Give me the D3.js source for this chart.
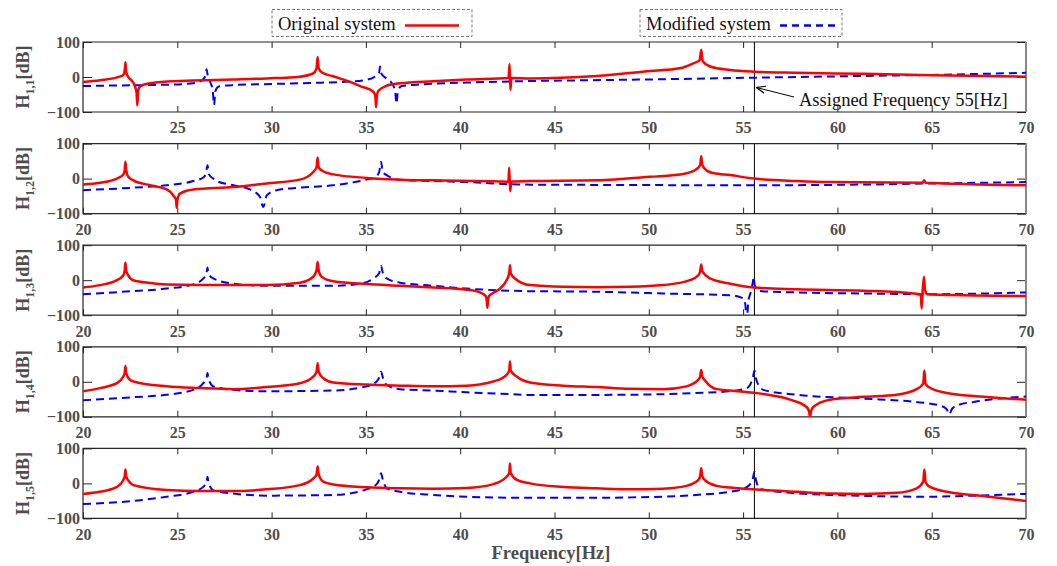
<!DOCTYPE html>
<html><head><meta charset="utf-8">
<script src="https://cdn.jsdelivr.net/npm/d3@7/dist/d3.min.js"></script>
<style>
body{margin:0;background:#fff;}
svg{display:block;}
.tk text{font-family:"Liberation Serif","Times New Roman",serif;font-weight:bold;font-size:16px;fill:#4d4d4d;}
.tk line{stroke:#262626;stroke-width:1;}
</style></head>
<body>
<svg id="chart" width="1057" height="566"></svg>
<script>
// ---------------- data ----------------
const freqTicks = [20, 25, 30, 35, 40, 45, 50, 55, 60, 65, 70];
const freqTicksFirst = [25, 30, 35, 40, 45, 50, 55, 60, 65, 70];
const dbTicks = [-100, 0, 100];
const panelSubs = ["1,1", "1,2", "1,3", "1,4", "1,5"];
const markerFreq = 55.6;
const seriesNames = ["Original system", "Modified system"];
const annotationText = "Assigned Frequency 55[Hz]";
const xLabel = "Frequency[Hz]";

const orig11 = [[20,-14],[20.9,-9],[21.8,-1],[22.14,6],[22.21,18],[22.25,42],[22.29,15],[22.4,0],[22.57,-9],[22.75,-26],[22.84,-45],[22.88,-81],[22.92,-45],[22.98,-30],[23.2,-22],[24.44,-13],[25.85,-10],[27.97,-7],[29.74,-4],[31.5,1],[32.2,10],[32.38,24],[32.44,57],[32.5,24],[32.7,12],[33.27,2],[34.16,-14],[34.69,-26],[35.4,-42],[35.5,-55],[35.54,-86],[35.58,-55],[35.65,-40],[36.1,-25],[36.81,-18],[38.57,-12],[40.34,-7],[42.56,-3],[42.62,37],[42.66,-37],[42.72,-3],[43.7,-4],[47.24,3],[50.06,17],[51.65,25],[52.36,39],[52.7,48],[52.78,78],[52.86,45],[53.25,30],[54.31,20],[55.6,15],[57.84,12],[61.38,9],[65,5],[70,1]];
const mod11 = [[20,-26],[22,-24],[24.44,-22],[25.85,-18],[26.3,-10],[26.5,5],[26.55,22],[26.62,2],[26.75,-15],[26.88,-40],[26.95,-80],[27.02,-40],[27.2,-27],[28,-23],[30,-20],[32,-17],[34.16,-13],[35.04,-8],[35.5,2],[35.7,12],[35.75,30],[35.82,10],[36.1,-5],[36.4,-20],[36.55,-40],[36.62,-76],[36.7,-40],[36.9,-26],[38,-21],[40.34,-16],[43.31,-12],[47,-9],[50,-7],[55.6,-2],[61.4,3],[65,6],[70,12]];

const orig12 = [[20,-17],[20.9,-12],[21.8,0],[22.14,12],[22.21,24],[22.25,48],[22.29,24],[22.4,5],[22.67,-5],[23.55,-19],[24.44,-31],[24.79,-48],[24.93,-60],[24.97,-83],[25.01,-60],[25.14,-43],[25.85,-31],[27.97,-24],[29.74,-14],[31.5,-3],[32.21,19],[32.38,32],[32.44,60],[32.5,32],[32.65,24],[33.27,12],[35.04,2],[36.81,-3],[38.57,-5],[42.11,-8],[42.55,-9],[42.6,31],[42.65,-36],[42.71,-8],[43.7,-7],[47.24,-5],[50.06,5],[51.9,14],[52.5,26],[52.72,38],[52.78,64],[52.84,38],[53.1,22],[53.42,16],[54.31,10],[55.6,0],[57.84,-7],[59.61,-10],[64.52,-12],[64.6,-5],[64.68,-12],[70,-19]];
const mod12 = [[20,-33],[22.67,-26],[24.44,-19],[25.85,-7],[26.38,3],[26.52,15],[26.6,38],[26.68,12],[26.91,0],[27.09,-7],[27.97,-19],[28.85,-31],[29.38,-52],[29.56,-81],[29.74,-48],[30.27,-33],[31.5,-26],[33.27,-19],[34.16,-12],[35.04,-3],[35.5,5],[35.7,18],[35.8,48],[35.9,18],[36.1,10],[36.81,-3],[38.57,-7],[40.34,-10],[43.31,-17],[47.24,-18],[55.6,-19],[61.38,-17],[64.91,-14],[70,-10]];

const orig13 = [[20,-21],[20.9,-14],[21.8,0],[22.14,14],[22.21,28],[22.25,50],[22.29,28],[22.4,14],[22.67,0],[23.55,-8],[24.44,-12],[27.97,-14],[29.74,-14],[31.5,-7],[32.21,10],[32.38,28],[32.44,52],[32.5,28],[32.65,10],[33.27,-3],[35.04,-11],[36.81,-16],[38.57,-21],[40.34,-27],[41.05,-35],[41.35,-45],[41.41,-60],[41.44,-79],[41.47,-60],[41.53,-45],[41.76,-36],[42.11,-24],[42.46,0],[42.6,20],[42.64,43],[42.68,20],[42.9,5],[43.7,-14],[45.47,-19],[47.24,-20],[49,-19],[50.77,-14],[52.18,0],[52.63,14],[52.72,25],[52.78,45],[52.84,25],[53.25,5],[54.31,-10],[55.6,-21],[57.84,-26],[61.38,-30],[64.03,-38],[64.42,-42],[64.47,-81],[64.52,-30],[64.59,10],[64.64,-25],[64.75,-40],[66.68,-43],[70,-45]];
const mod13 = [[20,-40],[22.67,-31],[24.44,-24],[25.85,-12],[26.38,5],[26.55,20],[26.6,36],[26.65,20],[26.91,5],[27.97,-10],[29.74,-16],[33.27,-16],[34.69,-10],[35.39,5],[35.7,20],[35.8,41],[35.9,20],[36.1,5],[36.81,-7],[38.57,-16],[40.34,-24],[43.31,-31],[47.24,-33],[50.77,-38],[54.31,-43],[55.01,-52],[55.12,-70],[55.19,-115],[55.28,-60],[55.4,-35],[55.5,-10],[55.56,8],[55.62,-15],[55.9,-31],[57.84,-35],[61.38,-38],[64.91,-40],[70,-35]];

const orig14 = [[20,-27],[20.9,-18],[21.8,-4],[22.14,15],[22.21,25],[22.25,45],[22.29,25],[22.5,5],[22.67,1],[24.44,-13],[26.2,-18],[27.97,-21],[29.74,-15],[31.5,-4],[32.21,15],[32.38,28],[32.44,53],[32.5,28],[32.74,10],[33.27,-2],[35.04,-8],[36.81,-11],[38.57,-13],[40.34,-11],[41.76,1],[42.46,20],[42.6,32],[42.64,58],[42.68,32],[43,15],[43.7,-2],[45.47,-11],[47.24,-15],[49,-20],[50.77,-21],[52,-13],[52.63,6],[52.72,15],[52.78,34],[52.84,15],[52.98,4],[53.6,-21],[54.31,-25],[56.07,-35],[57.49,-51],[58.37,-72],[58.5,-85],[58.55,-100],[58.6,-85],[58.72,-72],[59.61,-51],[61.38,-43],[63.14,-37],[64.2,-21],[64.55,-5],[64.61,32],[64.67,-5],[64.82,-14],[65.79,-32],[67.56,-42],[70,-51]];
const mod14 = [[20,-53],[22.67,-44],[24.44,-37],[25.85,-23],[26.38,-4],[26.55,10],[26.6,25],[26.65,10],[26.91,-13],[27.97,-23],[29.74,-27],[33.27,-25],[35.04,-13],[35.57,1],[35.7,12],[35.8,29],[35.9,12],[36.1,-9],[36.81,-21],[38.57,-25],[40.34,-30],[43.31,-37],[43.7,-38],[49,-37],[52.5,-32],[54.31,-27],[55.19,-18],[55.45,1],[55.52,12],[55.6,32],[55.68,10],[55.9,-15],[56.07,-23],[57.84,-37],[61.38,-48],[64.03,-57],[65.44,-68],[65.79,-78],[65.93,-93],[66.07,-78],[66.32,-68],[67.56,-55],[70,-42]];

const orig15 = [[20,-30],[20.9,-24],[21.8,-10],[22.14,10],[22.21,20],[22.25,40],[22.29,20],[22.5,2],[22.67,-5],[24.44,-19],[26.2,-22],[27.97,-22],[29.74,-17],[31.5,-5],[32.21,14],[32.38,25],[32.44,48],[32.5,25],[32.74,5],[33.27,-3],[35.04,-11],[36.81,-14],[38.57,-15],[40.34,-13],[41.76,-2],[42.46,19],[42.6,30],[42.64,57],[42.68,30],[43,10],[43.7,0],[45.47,-10],[47.24,-14],[49,-17],[50.77,-15],[52,-7],[52.63,10],[52.72,20],[52.78,43],[52.84,20],[52.98,9],[53.6,-7],[54.31,-12],[56.07,-19],[57.84,-24],[59.61,-29],[61.38,-30],[63.14,-27],[64.2,-14],[64.55,5],[64.61,40],[64.67,5],[64.82,-7],[65.79,-24],[67.56,-35],[70,-50]];
const mod15 = [[20,-59],[22.67,-50],[24.44,-38],[25.85,-24],[26.38,-10],[26.55,5],[26.6,19],[26.65,5],[26.91,-20],[27.97,-29],[29.74,-35],[33.27,-33],[35.04,-17],[35.57,-2],[35.7,10],[35.8,29],[35.9,10],[36.1,-14],[36.81,-24],[38.57,-33],[40.34,-38],[43.31,-41],[47.24,-41],[49,-40],[52.5,-33],[54.31,-24],[55.19,-11],[55.45,5],[55.52,15],[55.6,33],[55.68,10],[55.9,-15],[56.43,-21],[59.61,-33],[64.91,-38],[66.68,-36],[70,-30]];

const origSeries = [orig11, orig12, orig13, orig14, orig15];
const modSeries = [mod11, mod12, mod13, mod14, mod15];

// ---------------- layout ----------------
const svg = d3.select("#chart");
const L = 83, R = 1026, top0 = 42, step = 101.6, ph = 70;
const x = d3.scaleLinear().domain([20, 70]).range([L, R]);
const serif = '"Liberation Serif","Times New Roman",serif';
const redC = "#ff0000", blueC = "#0000ff";

panelSubs.forEach((sub, i) => {
  const top = top0 + i * step;
  const y = d3.scaleLinear().domain([-100, 100]).range([top + ph, top]);
  const g = svg.append("g");

  const cid = "clip" + i;
  svg.append("clipPath").attr("id", cid).append("rect")
    .attr("x", L).attr("y", top).attr("width", R - L).attr("height", ph);

  // axes
  const bx = g.append("g").attr("class", "tk").attr("transform", `translate(0,${top + ph})`)
    .call(d3.axisBottom(x).tickValues(i === 0 ? freqTicksFirst : freqTicks).tickSize(-6).tickPadding(10).tickFormat(d3.format("d")));
  bx.select(".domain").remove();
  const tx = g.append("g").attr("class", "tk").attr("transform", `translate(0,${top})`)
    .call(d3.axisTop(x).tickValues(freqTicks).tickSize(-6).tickFormat(""));
  tx.select(".domain").remove();
  const ly = g.append("g").attr("class", "tk").attr("transform", `translate(${L},0)`)
    .call(d3.axisLeft(y).tickValues(dbTicks).tickSize(-9).tickPadding(3));
  ly.select(".domain").remove();
  const ry = g.append("g").attr("class", "tk").attr("transform", `translate(${R},0)`)
    .call(d3.axisRight(y).tickValues(dbTicks).tickSize(-9).tickFormat(""));
  ry.select(".domain").remove();
  ry.selectAll("line").attr("stroke", "#777");

  // frame
  g.append("path").attr("d", `M${R},${top}H${L}V${top + ph}H${R}`)
    .attr("fill", "none").attr("stroke", "#262626").attr("stroke-width", 1.2);
  g.append("line").attr("x1", R).attr("x2", R).attr("y1", top).attr("y2", top + ph)
    .attr("stroke", "#888").attr("stroke-width", 2);

  // marker line
  g.append("line").attr("x1", x(markerFreq)).attr("x2", x(markerFreq))
    .attr("y1", top).attr("y2", top + ph).attr("stroke", "#000").attr("stroke-width", 1);

  const line = d3.line().x(d => x(d[0])).y(d => y(d[1])).curve(d3.curveMonotoneX);
  const cg = g.append("g").attr("clip-path", `url(#${cid})`);
  cg.append("path").datum(modSeries[i]).attr("d", line).attr("fill", "none")
    .attr("stroke", blueC).attr("stroke-width", 2).attr("stroke-dasharray", "8,5");
  cg.append("path").datum(origSeries[i]).attr("d", line).attr("fill", "none")
    .attr("stroke", redC).attr("stroke-width", 2.5);

  // y label
  const lab = svg.append("text")
    .attr("transform", `translate(29,${top + ph / 2}) rotate(-90)`)
    .attr("text-anchor", "middle").attr("font-family", serif).attr("font-weight", "bold")
    .attr("font-size", 18).attr("fill", "#4d4d4d");
  lab.append("tspan").text("H");
  lab.append("tspan").attr("font-size", 12).attr("dy", 5).text(sub);
  lab.append("tspan").attr("dy", -5).text("[dB]");
});

// x label
svg.append("text").attr("x", 551).attr("y", 559).attr("text-anchor", "middle")
  .attr("font-family", serif).attr("font-weight", "bold").attr("font-size", 18.5)
  .attr("fill", "#4d4d4d").text(xLabel);

// legends
const legends = [
  {name: seriesNames[0], bx: 272, bw: 200, c: redC, dash: null, lx0: 405, lx1: 459},
  {name: seriesNames[1], bx: 640, bw: 202, c: blueC, dash: "7,5", lx0: 780, lx1: 835}
];
legends.forEach(lg => {
  svg.append("rect").attr("x", lg.bx).attr("y", 9.5).attr("width", lg.bw).attr("height", 27)
    .attr("fill", "#fff").attr("stroke", "#777").attr("stroke-width", 1).attr("stroke-dasharray", "3,2");
  svg.append("text").attr("x", lg.bx + 6).attr("y", 30).attr("font-family", serif)
    .attr("font-size", 18.5).attr("fill", "#111").text(lg.name);
  svg.append("line").attr("x1", lg.lx0).attr("x2", lg.lx1).attr("y1", 25.5).attr("y2", 25.5)
    .attr("stroke", lg.c).attr("stroke-width", 2.5).attr("stroke-dasharray", lg.dash);
});

// annotation
const y1 = d3.scaleLinear().domain([-100, 100]).range([top0 + ph, top0]);
svg.append("defs").append("marker").attr("id", "arr").attr("viewBox", "0 0 10 10")
  .attr("refX", 10).attr("refY", 5).attr("markerWidth", 9).attr("markerHeight", 9)
  .attr("orient", "auto").attr("markerUnits", "userSpaceOnUse")
  .append("path").attr("d", "M0,1L10,5L0,9").attr("fill", "none").attr("stroke", "#000").attr("stroke-width", 1.3);
svg.append("line").attr("x1", 794).attr("y1", 97).attr("x2", x(markerFreq) + 2).attr("y2", y1(-30))
  .attr("stroke", "#000").attr("stroke-width", 1).attr("marker-end", "url(#arr)");
svg.append("text").attr("x", 799).attr("y", 106).attr("font-family", serif)
  .attr("font-size", 18.5).attr("fill", "#111").text(annotationText);
</script>
</body></html>
